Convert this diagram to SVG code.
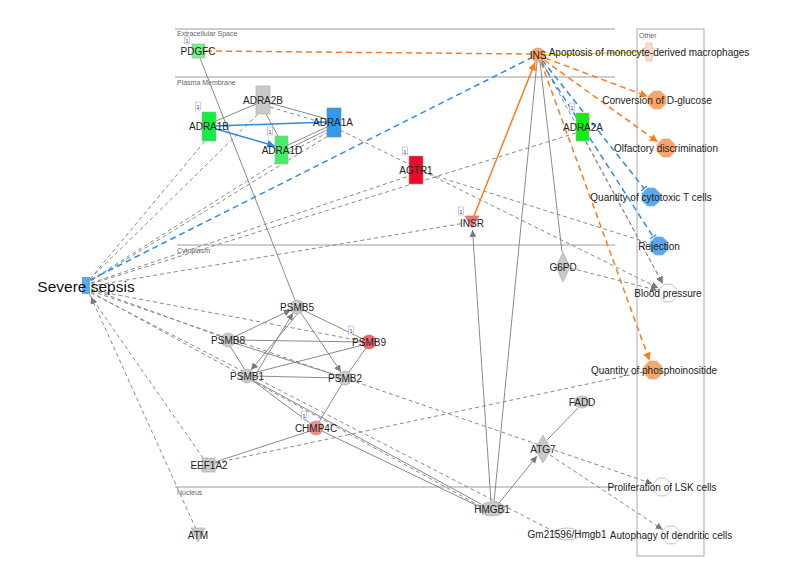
<svg xmlns="http://www.w3.org/2000/svg" width="796" height="586" viewBox="0 0 796 586">
<style>
.bg{fill:#fff}
.comp{stroke:#bdbdbd;stroke-width:1.3;fill:none}
.clab{font-family:"Liberation Sans",Arial,sans-serif;font-size:7px;fill:#666}
.lab{font-family:"Liberation Sans",Arial,sans-serif;font-size:10px;fill:#222;text-anchor:middle}
.big{font-family:"Liberation Sans",Arial,sans-serif;font-size:15.5px;fill:#111;text-anchor:middle}
.badge rect{fill:#fff;stroke:#aab;stroke-width:0.6}
.badge text{font-family:"Liberation Sans",Arial,sans-serif;font-size:6px;fill:#33f;text-anchor:middle}
.gs{stroke:#8a8a8a;stroke-width:1;fill:none}
.gd{stroke:#8a8a8a;stroke-width:1;fill:none;stroke-dasharray:4 3}
.os{stroke:#ff7a1f;stroke-width:1.5;fill:none}
.od{stroke:#ff7a1f;stroke-width:1.5;fill:none;stroke-dasharray:6 4}
.bs{stroke:#2b8ae8;stroke-width:1.5;fill:none}
.bd{stroke:#2b8ae8;stroke-width:1.5;fill:none;stroke-dasharray:6 4}
.ys{stroke:#f2d23a;stroke-width:1.5;fill:none}
.gray{fill:#c9c9c9;stroke:#b5b5b5;stroke-width:0.8}
.orng{fill:#f7a56a;stroke:#e8955a;stroke-width:0.8}
.blu{fill:#5aa8ee;stroke:#4a98de;stroke-width:0.8}
.wht{fill:#fff;stroke:#b0b0b0;stroke-width:0.8}
</style>
<defs>
<marker id="ag" viewBox="0 0 10 10" refX="10" refY="5" markerWidth="7" markerHeight="7" markerUnits="userSpaceOnUse" orient="auto"><path d="M0,0 L10,5 L0,10 z" fill="#7a7a7a"/></marker>
<marker id="ao" viewBox="0 0 10 10" refX="10" refY="5" markerWidth="8" markerHeight="8" markerUnits="userSpaceOnUse" orient="auto"><path d="M0,0 L10,5 L0,10 z" fill="#ff7a1f"/></marker>
<marker id="ab" viewBox="0 0 10 10" refX="10" refY="5" markerWidth="8" markerHeight="8" markerUnits="userSpaceOnUse" orient="auto"><path d="M0,0 L10,5 L0,10 z" fill="#2b8ae8"/></marker>
<marker id="tb" viewBox="0 0 4 10" refX="2" refY="5" markerWidth="3" markerHeight="8" markerUnits="userSpaceOnUse" orient="auto"><path d="M2,0 V10" stroke="#2b8ae8" stroke-width="1.6"/></marker>
<polygon id="oct" points="8.8,3.6 3.6,8.8 -3.6,8.8 -8.8,3.6 -8.8,-3.6 -3.6,-8.8 3.6,-8.8 8.8,-3.6"/>
</defs>
<rect class="bg" x="0" y="0" width="796" height="586"/>

<g id="compartments">
<line class="comp" x1="175" y1="29" x2="615" y2="29"/>
<text class="clab" x="177" y="36">Extracellular Space</text>
<line class="comp" x1="175" y1="77" x2="615" y2="77"/>
<text class="clab" x="177" y="85">Plasma Membrane</text>
<line class="comp" x1="177" y1="245" x2="615" y2="245"/>
<text class="clab" x="177" y="253">Cytoplasm</text>
<line class="comp" x1="175" y1="487" x2="615" y2="487"/>
<text class="clab" x="177" y="495">Nucleus</text>
<rect class="comp" x="637" y="29" width="67" height="527"/>
<text class="clab" x="639" y="38">Other</text>
</g>

<g id="connectors">
<line class="gd" x1="90" y1="279" x2="205" y2="141"/>
<line class="gd" x1="90" y1="279" x2="258" y2="114"/>
<line class="gd" x1="91" y1="280" x2="277" y2="162"/>
<line class="gd" x1="91" y1="281" x2="328" y2="136"/>
<line class="gd" x1="91" y1="283" x2="409" y2="176"/>
<line class="gd" x1="91" y1="284" x2="576" y2="133"/>
<line class="gd" x1="91" y1="286" x2="465" y2="223"/>
<line class="gd" x1="91" y1="289" x2="222" y2="337"/>
<line class="gd" x1="91" y1="290" x2="362" y2="341"/>
<line class="gd" x1="91" y1="291" x2="652.5" y2="483.8" marker-end="url(#ag)"/>
<line class="gd" x1="91" y1="292" x2="480" y2="506"/>
<line class="gd" x1="91" y1="293" x2="555" y2="532"/>
<line class="gd" x1="89" y1="294" x2="203" y2="458"/>
<line class="gd" x1="196" y1="529" x2="91" y2="297" marker-end="url(#ag)"/>
<line class="gd" x1="215" y1="463" x2="644" y2="372"/>
<line class="gd" x1="340" y1="130" x2="658.2" y2="288" marker-end="url(#ag)"/>
<line class="gd" x1="423" y1="172" x2="649" y2="243"/>
<line class="gd" x1="542" y1="62" x2="662.7" y2="283.3" marker-end="url(#ag)"/>
<line class="gd" x1="586" y1="141" x2="662.6" y2="283.4" marker-end="url(#ag)"/>
<line class="gd" x1="570" y1="268" x2="657.3" y2="290.3" marker-end="url(#ag)"/>
<line class="gd" x1="550" y1="455" x2="662.7" y2="529.5" marker-end="url(#ag)"/>
<line class="gd" x1="270" y1="107" x2="327" y2="124"/>
<line class="gd" x1="288" y1="153" x2="327" y2="133"/>
<line class="gs" x1="200" y1="58" x2="295" y2="300"/>
<line class="gs" x1="256" y1="104" x2="216" y2="121"/>
<line class="gs" x1="270" y1="103" x2="327" y2="119"/>
<line class="gs" x1="266" y1="114" x2="278" y2="136"/>
<line class="gs" x1="288" y1="145" x2="327" y2="127"/>
<line class="gs" x1="288" y1="149" x2="327" y2="130"/>
<line class="gs" x1="537" y1="62" x2="494" y2="502"/>
<line class="gs" x1="540" y1="62" x2="562" y2="252"/>
<line class="gs" x1="491" y1="502" x2="472.5" y2="230" marker-end="url(#ag)"/>
<line class="gs" x1="499" y1="503" x2="537" y2="456" marker-end="url(#ag)"/>
<line class="gs" x1="578" y1="408" x2="547" y2="440"/>
<line class="gs" x1="234" y1="337" x2="290.7" y2="310" marker-end="url(#ag)"/>
<line class="gs" x1="299" y1="312" x2="251" y2="370" marker-end="url(#ag)"/>
<line class="gs" x1="257" y1="372" x2="293" y2="313" marker-end="url(#ag)"/>
<line class="gs" x1="301" y1="313" x2="341" y2="372" marker-end="url(#ag)"/>
<line class="gs" x1="303" y1="310" x2="363" y2="339"/>
<line class="gs" x1="235" y1="340" x2="362" y2="342"/>
<line class="gs" x1="234" y1="343" x2="339" y2="376"/>
<line class="gs" x1="230" y1="346" x2="245" y2="370"/>
<line class="gs" x1="253" y1="373" x2="363" y2="345"/>
<line class="gs" x1="254" y1="376" x2="338" y2="378"/>
<line class="gs" x1="366" y1="348" x2="349" y2="372"/>
<line class="gs" x1="342" y1="384" x2="319" y2="422"/>
<line class="gs" x1="252" y1="380" x2="311" y2="424"/>
<line class="gs" x1="310" y1="431" x2="215" y2="462"/>
<line class="gs" x1="322" y1="431" x2="480" y2="507"/>
<line class="gs" x1="253" y1="380" x2="481" y2="504"/>
<line class="bs" x1="216" y1="126" x2="327" y2="122"/>
<line class="bs" x1="216" y1="129" x2="275" y2="146" marker-end="url(#ab)"/>
<line class="bd" x1="90" y1="280" x2="531" y2="58"/>
<line class="bd" x1="542" y1="60" x2="644.1" y2="188.4" marker-end="url(#tb)"/>
<line class="bd" x1="541" y1="62" x2="653.1" y2="236.7" marker-end="url(#tb)"/>
<line class="od" x1="206" y1="51" x2="531" y2="54"/>
<line class="od" x1="545" y1="58" x2="647.6" y2="96.5" marker-end="url(#ao)"/>
<line class="od" x1="544" y1="60" x2="657.9" y2="142.1" marker-end="url(#ao)"/>
<line class="od" x1="541" y1="62" x2="649.6" y2="360.6" marker-end="url(#ao)"/>
<line class="os" x1="474" y1="216" x2="535.1" y2="62.4" marker-end="url(#ao)"/>
<line class="ys" x1="545" y1="55" x2="645" y2="52"/>
</g>

<g id="n-pdgfc"><rect x="192" y="44" width="13" height="14" fill="#77ee88" stroke="#aaa" stroke-width="0.6"/><text class="lab" x="198" y="54.5">PDGFC</text><g class="badge"><rect x="184.5" y="37" width="5" height="7"/><text x="187" y="42.8">1</text></g></g>
<g id="n-adra2b"><rect x="256" y="86" width="14" height="28" class="gray"/><text class="lab" x="263" y="103.5">ADRA2B</text></g>
<g id="n-adra1b"><rect x="202" y="112" width="14" height="29" fill="#11ee44" stroke="#aaa" stroke-width="0.6"/><text class="lab" x="209" y="129.5">ADRA1B</text><g class="badge"><rect x="195.5" y="102" width="5" height="8"/><text x="198" y="108.5">1</text></g></g>
<g id="n-adra1a"><rect x="327" y="108" width="14" height="29" fill="#3399ee" stroke="#888" stroke-width="0.6"/><text class="lab" x="333" y="125.5">ADRA1A</text></g>
<g id="n-adra1d"><rect x="275" y="136" width="13" height="28" fill="#44ee66" stroke="#aaa" stroke-width="0.6"/><text class="lab" x="282" y="153.5">ADRA1D</text><g class="badge"><rect x="267.5" y="127" width="5" height="8"/><text x="270" y="133.5">1</text></g></g>
<g id="n-agtr1"><rect x="409" y="156" width="14" height="28" fill="#ee0a2a" stroke="#c88" stroke-width="0.6"/><text class="lab" x="416" y="173.5">AGTR1</text><g class="badge"><rect x="402.5" y="147" width="5" height="8"/><text x="405" y="153.5">1</text></g></g>
<g id="n-insr"><polygon points="465,216 479,216 472,228" fill="#ee7777" stroke="#c66" stroke-width="0.6"/><text class="lab" x="472" y="226.5">INSR</text><g class="badge"><rect x="458.5" y="207" width="5" height="8"/><text x="461" y="213.5">1</text></g></g>
<g id="n-ins"><circle cx="538" cy="55" r="7" class="orng"/><text class="lab" x="538" y="58.5">INS</text></g>
<g id="n-adra2a"><rect x="576" y="113" width="13" height="28" fill="#11ee11" stroke="#aaa" stroke-width="0.6"/><text class="lab" x="583" y="130.5">ADRA2A</text><g class="badge"><rect x="569.5" y="103" width="5" height="8"/><text x="572" y="109.5">1</text></g></g>
<g id="n-g6pd"><polygon points="563,252 570,267 563,282 556,267" class="gray"/><text class="lab" x="563" y="270.5">G6PD</text></g>
<g id="n-apop"><polygon points="646,43 652,43 652,48 654,48 654,56 652,56 652,61 646,61 646,56 644,56 644,48 646,48" fill="#fbdcca" stroke="#e8b89c" stroke-width="0.7"/><text class="lab" x="649" y="55.5">Apoptosis of monocyte-derived macrophages</text></g>
<g id="n-conv"><use href="#oct" x="657" y="100" class="orng"/><text class="lab" x="657" y="103.5">Conversion of D-glucose</text></g>
<g id="n-olf"><use href="#oct" x="666" y="148" class="orng"/><text class="lab" x="666" y="151.5">Olfactory discrimination</text></g>
<g id="n-qct"><use href="#oct" x="651" y="197" class="blu"/><text class="lab" x="651" y="200.5">Quantity of cytotoxic T cells</text></g>
<g id="n-rej"><use href="#oct" x="659" y="246" class="blu"/><text class="lab" x="659" y="249.5">Rejection</text></g>
<g id="n-bp"><use href="#oct" x="668" y="293" class="wht"/><text class="lab" x="668" y="296.5">Blood pressure</text></g>
<g id="n-qpi"><use href="#oct" x="653" y="370" class="orng"/><text class="lab" x="654" y="373.5">Quantity of phosphoinositide</text></g>
<g id="n-fadd"><ellipse cx="582" cy="402" rx="8" ry="6" class="gray"/><text class="lab" x="582" y="405.5">FADD</text></g>
<g id="n-atg7"><polygon points="543,435 551,449 543,463 535,449" class="gray"/><text class="lab" x="543" y="452.5">ATG7</text></g>
<g id="n-lsk"><use href="#oct" x="662" y="487" class="wht"/><text class="lab" x="662" y="490.5">Proliferation of LSK cells</text></g>
<g id="n-auto"><use href="#oct" x="671" y="535" class="wht"/><text class="lab" x="671" y="538.5">Autophagy of dendritic cells</text></g>
<g id="n-hmgb1"><ellipse cx="492" cy="509" rx="13" ry="7" class="gray"/><text class="lab" x="492" y="512.5">HMGB1</text></g>
<g id="n-gm"><ellipse cx="567" cy="534" rx="13" ry="6" class="wht"/><text class="lab" x="567" y="537.5">Gm21596/Hmgb1</text></g>
<g id="n-psmb5"><circle cx="297" cy="307" r="7" class="gray"/><text class="lab" x="297" y="310.5">PSMB5</text></g>
<g id="n-psmb8"><circle cx="228" cy="340" r="7" class="gray"/><text class="lab" x="228" y="343.5">PSMB8</text></g>
<g id="n-psmb9"><circle cx="369" cy="342" r="7" fill="#ee6670" stroke="#d55" stroke-width="0.6"/><text class="lab" x="369" y="345.5">PSMB9</text><g class="badge"><rect x="348.5" y="326" width="5" height="8"/><text x="351" y="332.5">1</text></g></g>
<g id="n-psmb1"><circle cx="247" cy="376" r="7" class="gray"/><text class="lab" x="247" y="379.5">PSMB1</text></g>
<g id="n-psmb2"><circle cx="345" cy="378" r="7" class="gray"/><text class="lab" x="345" y="381.5">PSMB2</text></g>
<g id="n-chmp4c"><circle cx="316" cy="428" r="7" fill="#f28c8c" stroke="#d77" stroke-width="0.6"/><text class="lab" x="316" y="431.5">CHMP4C</text><g class="badge"><rect x="301.5" y="411" width="5" height="8"/><text x="304" y="417.5">1</text></g></g>
<g id="n-eef1a2"><rect x="202" y="458" width="13" height="14" class="gray"/><text class="lab" x="209" y="468.5">EEF1A2</text></g>
<g id="n-atm"><polygon points="191,528 205,528 198,542" class="gray"/><text class="lab" x="198" y="538.5">ATM</text></g>
<g id="n-sepsis"><rect x="82" y="277" width="8" height="17" fill="#5aa8ee"/><text class="big" x="86" y="292">Severe sepsis</text></g>
</svg>
